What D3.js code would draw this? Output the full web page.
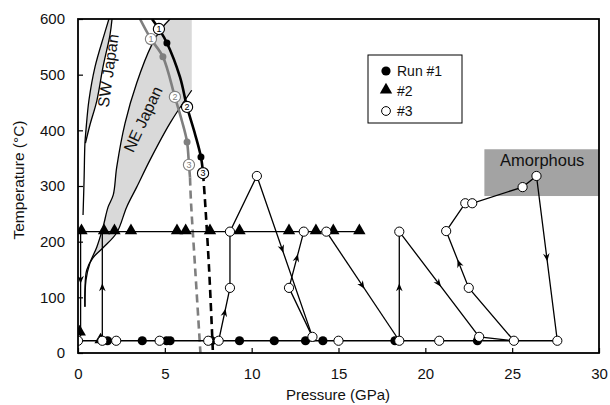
<!DOCTYPE html>
<html><head><meta charset="utf-8">
<script src="https://cdn.jsdelivr.net/npm/d3@7"></script>
<style>body{margin:0;background:#fff}svg{display:block}text{font-family:"Liberation Sans",Arial,Helvetica,sans-serif}</style>
</head><body><svg id="c" width="610" height="405"></svg>
<script>
// ---------- data ----------
const xTicks = [0, 5, 10, 15, 20, 25, 30];
const yTicks = [0, 100, 200, 300, 400, 500, 600];

// Run #1 (filled circles)
const run1 = [[1.7,22],[3.7,22],[5.1,22],[5.3,22],[7.7,22],[9.3,22],[11.3,22],[13.1,22],[14.1,22],[18.25,22],[23.0,22]];
// Run #2 (triangles)
const run2 = [[0.1,36],[1.3,22],[0.2,218],[1.5,218],[2.1,218],[3.05,218],[5.7,218],[6.2,218],[7.6,218],[9.3,218],[12.15,218],[13.7,218],[14.7,218],[16.2,218]];
// Run #3 (open circles)
const run3 = [[0,22],[1.4,22],[2.2,22],[4.7,22],[7.5,22],[8.1,22],[8.75,117],[8.75,218],[10.3,318],[13.5,29],[12.15,117],[13.0,218],[14.3,218],[15.0,22],[18.5,22],[18.5,218],[20.8,22],[23.1,29],[25.1,22],[22.5,117],[21.2,219],[22.3,269],[22.7,269],[25.6,298],[26.4,318],[27.6,22]];

// P-T paths
const paths = [
  [[0,22],[27.6,22]],
  [[0,218],[16.2,218]],
  [[0.15,218],[0.15,30]],
  [[1.4,22],[1.4,218]],
  [[8.1,22],[8.75,117],[8.75,218],[10.3,318],[13.5,29]],
  [[13.5,29],[12.15,117],[13.0,218]],
  [[14.3,218],[18.5,22]],
  [[18.5,22],[18.5,218],[23.1,29],[25.1,22],[22.5,117],[21.2,219],[22.3,269],[22.7,269],[25.6,298],[26.4,318],[27.6,22]]
];
// arrows: from, to, fraction along segment
const arrows = [
  [[0.15,218],[0.15,30],0.47],
  [[1.4,22],[1.4,218],0.5],
  [[8.1,22],[8.75,117],0.55],
  [[10.3,318],[13.5,29],0.46],
  [[12.15,117],[13.0,218],0.55],
  [[14.3,218],[18.5,22],0.5],
  [[18.5,22],[18.5,218],0.5],
  [[18.5,218],[23.1,29],0.5],
  [[22.5,117],[21.2,219],0.45],
  [[26.4,318],[27.6,22],0.5]
];

// phase boundaries
const blackSolid = [[4.26,600],[4.66,582],[5.12,557],[5.87,496],[6.28,442],[6.75,392],[7.08,352],[7.2,323]];
const blackDash  = [[7.2,323],[7.31,275],[7.55,150],[7.77,0]];
const greySolid  = [[3.57,600],[4.2,564],[4.89,532],[5.58,460],[6.0,415],[6.28,379],[6.39,338],[6.45,315]];
const greyDash   = [[6.45,315],[6.5,275],[6.75,150],[7.05,0]];
const blackDots = [[5.12,557],[7.08,352]];
const greyDots  = [[4.89,532],[6.28,379]];
const blackLabels = [[4.66,582,"1"],[6.28,442,"2"],[7.2,323,"3"]];
const greyLabels  = [[4.2,564,"1"],[5.58,460,"2"],[6.39,338,"3"]];

// geotherm bands
const swLeft  = [[1.78,600],[1.5,571],[0.98,514],[0.63,454],[0.46,401],[0.4,377],[0.35,311],[0.29,248]];
const swRight = [[1.96,600],[1.84,571],[1.44,514],[1.09,454],[0.69,410],[0.43,377]];
const neLeft  = [[5.3,600],[4.84,584],[4.24,553],[3.38,485],[2.71,413],[2.23,334],[2.03,284],[1.73,262],[1.44,226],[1.08,190],[0.69,162],[0.46,131],[0.4,83]];
const neRight = [[6.55,472],[5.3,413],[4.15,347],[3.38,298],[2.8,262],[2.23,216],[1.44,189],[0.86,171],[0.5,149],[0.4,113],[0.4,83]];
const amorphous = {p0:23.4, p1:30, t0:282, t1:366, label:"Amorphous"};

// ---------- chart ----------
const svg = d3.select("#c");
const x = d3.scaleLinear().domain([0,30]).range([78,599]);
const y = d3.scaleLinear().domain([0,600]).range([353,19]);
const line = d3.line().x(d=>x(d[0])).y(d=>y(d[1]));
const smooth = d3.line().x(d=>x(d[0])).y(d=>y(d[1])).curve(d3.curveCatmullRom.alpha(0.5));

const g = svg.append("g");
svg.append("clipPath").attr("id","clip").append("rect").attr("x",78).attr("y",19).attr("width",521).attr("height",334);
const plot = g.append("g").attr("clip-path","url(#clip)");

// SW band
plot.append("path").attr("d", line(swLeft.slice(0,6).concat(swRight.slice().reverse())) + "Z")
  .attr("fill","#d9d9d9").attr("stroke","none");
plot.append("path").attr("d", smooth(swLeft)).attr("fill","none").attr("stroke","#000").attr("stroke-width",1.3);
plot.append("path").attr("d", smooth(swRight)).attr("fill","none").attr("stroke","#000").attr("stroke-width",1.3);

// NE band
const nePoly = [[5.3,600],[6.55,600],[6.55,472]].concat(neRight.slice(1)).concat(neLeft.slice().reverse());
plot.append("path").attr("d", line(nePoly)+"Z").attr("fill","#d9d9d9").attr("stroke","none");
plot.append("path").attr("d", smooth(neLeft)).attr("fill","none").attr("stroke","#000").attr("stroke-width",1.3);
plot.append("path").attr("d", smooth(neRight)).attr("fill","none").attr("stroke","#000").attr("stroke-width",1.3);

// Amorphous
plot.append("rect").attr("x",x(amorphous.p0)).attr("y",y(amorphous.t1))
  .attr("width",x(amorphous.p1)-x(amorphous.p0)).attr("height",y(amorphous.t0)-y(amorphous.t1))
  .attr("fill","#a3a3a3");
plot.append("text").attr("x",x((amorphous.p0+amorphous.p1)/2)+0.5).attr("y",y(amorphous.t1)+17)
  .attr("text-anchor","middle").attr("font-size",16.5).attr("fill","#111").text(amorphous.label);

// phase boundaries
plot.append("path").attr("d", smooth(greySolid)).attr("fill","none").attr("stroke","#7f7f7f").attr("stroke-width",2.6);
plot.append("path").attr("d", smooth(greyDash)).attr("fill","none").attr("stroke","#7f7f7f").attr("stroke-width",2.6).attr("stroke-dasharray","8,5");
plot.append("path").attr("d", smooth(blackSolid)).attr("fill","none").attr("stroke","#000").attr("stroke-width",2.6);
plot.append("path").attr("d", smooth(blackDash)).attr("fill","none").attr("stroke","#000").attr("stroke-width",2.6).attr("stroke-dasharray","8,5");
plot.selectAll(".gd").data(greyDots).join("circle").attr("cx",d=>x(d[0])).attr("cy",d=>y(d[1])).attr("r",3.5).attr("fill","#7f7f7f");
plot.selectAll(".bd").data(blackDots).join("circle").attr("cx",d=>x(d[0])).attr("cy",d=>y(d[1])).attr("r",3.5).attr("fill","#000");

// data paths
paths.forEach(p => plot.append("path").attr("d", line(p)).attr("fill","none").attr("stroke","#000").attr("stroke-width",1.3));
// arrows
arrows.forEach(a => {
  const x1=x(a[0][0]), y1=y(a[0][1]), x2=x(a[1][0]), y2=y(a[1][1]);
  const px=x1+(x2-x1)*a[2], py=y1+(y2-y1)*a[2];
  const ang=Math.atan2(y2-y1,x2-x1)*180/Math.PI;
  plot.append("path").attr("d","M3,0 L-5,-3.3 L-2.5,0 L-5,3.3 Z")
    .attr("transform",`translate(${px},${py}) rotate(${ang})`).attr("fill","#000");
});

// markers
const tri = d3.symbol().type(d3.symbolTriangle).size(66);
plot.selectAll(".r2").data(run2).join("path").attr("d",tri)
  .attr("transform",d=>`translate(${x(d[0])},${y(d[1])-1})`).attr("fill","#000");
plot.selectAll(".r1").data(run1).join("circle").attr("cx",d=>x(d[0])).attr("cy",d=>y(d[1])).attr("r",4.6).attr("fill","#000");
plot.selectAll(".r3").data(run3).join("circle").attr("cx",d=>x(d[0])).attr("cy",d=>y(d[1])).attr("r",4.6)
  .attr("fill","#fff").attr("stroke","#000").attr("stroke-width",1);

// numbered labels
function numLabels(data,col){
  const gg = plot.append("g");
  data.forEach(d=>{
    gg.append("circle").attr("cx",x(d[0])).attr("cy",y(d[1])).attr("r",5.6).attr("fill","#fff").attr("stroke",col).attr("stroke-width",1.1);
    gg.append("text").attr("x",x(d[0])).attr("y",y(d[1])+3.2).attr("text-anchor","middle").attr("font-size",9).attr("fill",col).text(d[2]);
  });
}
numLabels(greyLabels,"#7f7f7f");
numLabels(blackLabels,"#000");

// band labels
plot.append("text").attr("transform",`translate(${x(1.73)},${y(507)}) rotate(-82)`).attr("text-anchor","middle")
  .attr("dy","0.35em").attr("font-size",16).attr("fill","#111").text("SW Japan");
plot.append("text").attr("transform",`translate(${x(3.74)},${y(420)}) rotate(-65)`).attr("text-anchor","middle")
  .attr("dy","0.35em").attr("font-size",16).attr("fill","#111").text("NE Japan");

// axes
const xa = g.append("g").attr("transform","translate(0,353)")
  .call(d3.axisBottom(x).tickValues(xTicks).tickSizeInner(-5).tickSizeOuter(0).tickPadding(15));
const ya = g.append("g").attr("transform","translate(78,0)")
  .call(d3.axisLeft(y).tickValues(yTicks).tickSizeInner(-5).tickSizeOuter(0).tickPadding(13));
[xa,ya].forEach(a=>{
  a.select(".domain").remove();
  a.selectAll("line").attr("stroke","#000").attr("stroke-width",1.2);
  a.selectAll("text").attr("font-size",15).attr("fill","#111").attr("font-family","Liberation Sans, Arial, sans-serif");
});

// frame
g.append("rect").attr("x",78).attr("y",19).attr("width",521).attr("height",334)
  .attr("fill","none").attr("stroke","#000").attr("stroke-width",1.8);

// axis titles
g.append("text").attr("x",338).attr("y",400).attr("text-anchor","middle").attr("font-size",15).attr("fill","#111").text("Pressure (GPa)");
g.append("text").attr("transform","translate(24,180) rotate(-90)").attr("text-anchor","middle").attr("font-size",15.5).attr("fill","#111").text("Temperature (°C)");

// legend
const lg = g.append("g");
lg.append("rect").attr("x",368).attr("y",55).attr("width",94).attr("height",68).attr("fill","#fff").attr("stroke","#000").attr("stroke-width",1);
const legendItems = [["circle","Run #1"],["triangle","#2"],["open","#3"]];
legendItems.forEach((it,i)=>{
  const cy = 71 + i*20;
  if(it[0]==="circle") lg.append("circle").attr("cx",386).attr("cy",cy).attr("r",4.6).attr("fill","#000");
  else if(it[0]==="triangle") lg.append("path").attr("d",tri).attr("transform",`translate(386,${cy-1})`).attr("fill","#000");
  else lg.append("circle").attr("cx",386).attr("cy",cy).attr("r",4.4).attr("fill","#fff").attr("stroke","#000").attr("stroke-width",1);
  lg.append("text").attr("x",397).attr("y",cy+5).attr("font-size",14).attr("fill","#111").text(it[1]);
});
</script></body></html>
